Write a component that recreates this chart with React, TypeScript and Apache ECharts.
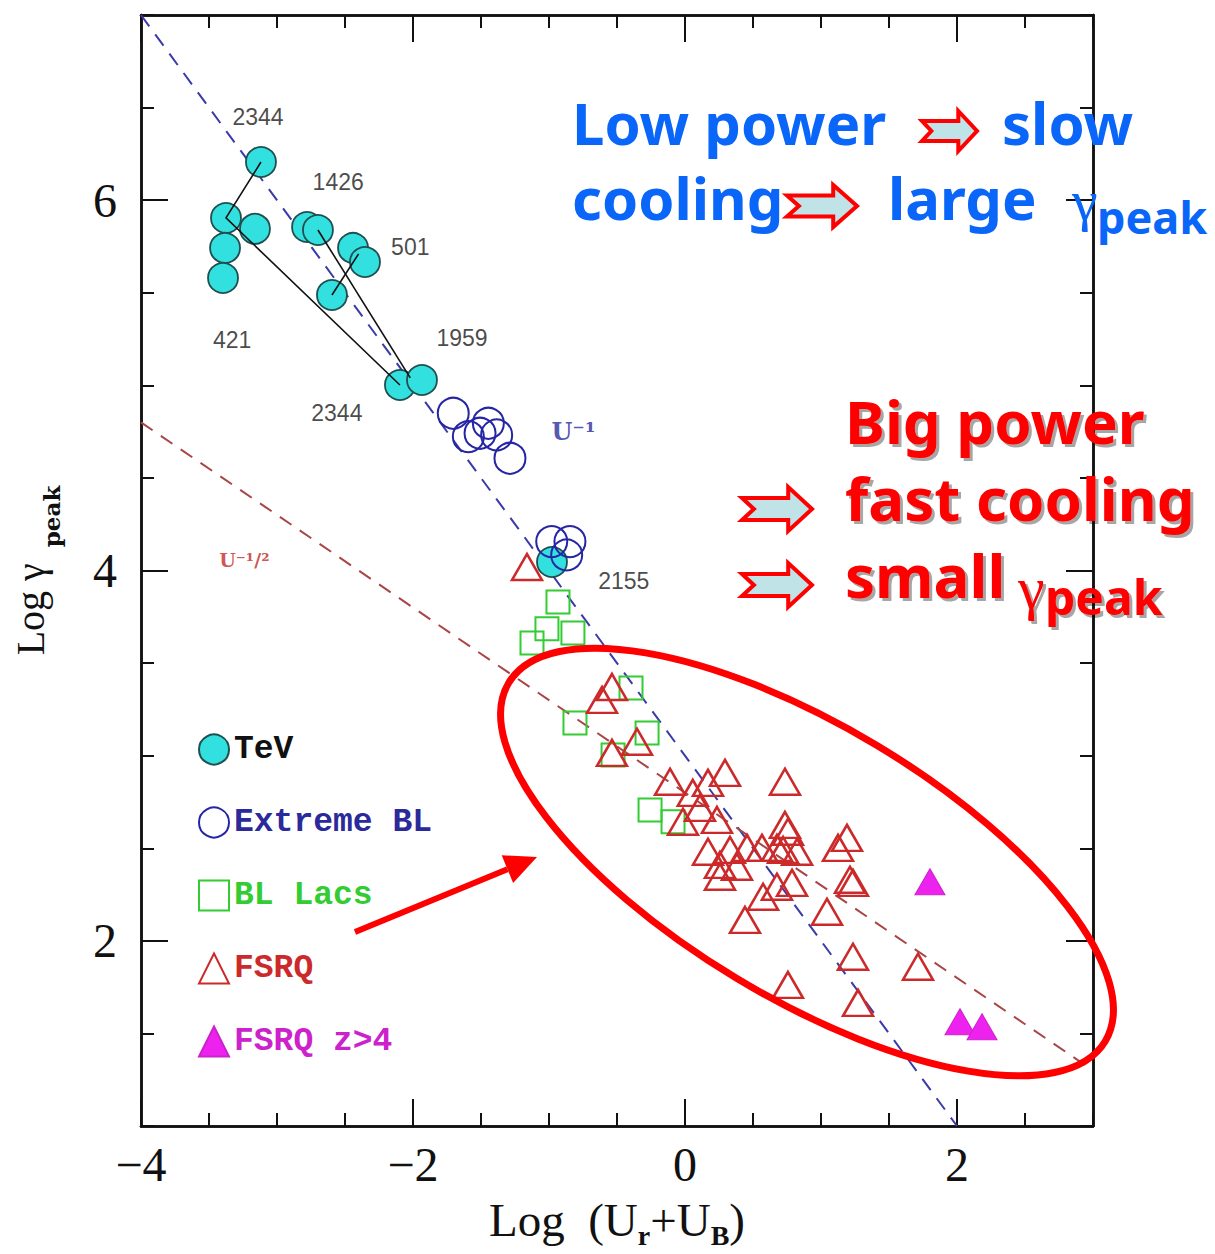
import React, { useEffect, useRef } from "react";
import * as echarts from "echarts";

// ---------- data ----------
const xRange = [-4, 3];
const yRange = [1, 7];
const xMajorTicks = [-4, -2, 0, 2];
const yMajorTicks = [2, 4, 6];

const tevPoints = [
  [-3.118, 6.206], [-3.375, 5.904], [-3.162, 5.845], [-3.382, 5.742], [-3.397, 5.58],
  [-2.779, 5.855], [-2.699, 5.839], [-2.441, 5.742], [-2.353, 5.666], [-2.596, 5.488],
  [-2.096, 5.002], [-1.934, 5.029], [-0.978, 4.046],
];
const extremeBLPoints = [
  [-1.704, 4.849], [-1.593, 4.723], [-1.446, 4.795], [-1.507, 4.741], [-1.385, 4.732],
  [-1.287, 4.606], [-0.98, 4.156], [-0.846, 4.156], [-0.87, 4.084],
];
const blLacPoints = [
  [-0.934, 3.83], [-1.015, 3.685], [-0.824, 3.663], [-1.125, 3.609], [-0.397, 3.366],
  [-0.809, 3.177], [-0.279, 3.123], [-0.529, 3.004], [-0.257, 2.707], [-0.088, 2.643],
];
const fsrqPoints = [
  [-1.162, 4.019], [-0.537, 3.371], [-0.61, 3.301], [-0.537, 3.015], [-0.353, 3.075],
  [-0.11, 2.859], [0.057, 2.799], [0.169, 2.853], [0.294, 2.907], [0.735, 2.859],
  [0.11, 2.718], [0.235, 2.653], [-0.015, 2.643], [0.735, 2.626], [0.757, 2.589],
  [1.191, 2.556], [1.125, 2.502], [0.169, 2.481], [0.331, 2.491], [0.456, 2.502],
  [0.566, 2.502], [0.676, 2.502], [0.721, 2.491], [0.824, 2.481], [0.257, 2.41],
  [0.382, 2.4], [0.257, 2.346], [1.213, 2.33], [1.235, 2.313], [0.787, 2.313],
  [0.676, 2.292], [0.574, 2.238], [1.044, 2.157], [0.441, 2.113], [1.235, 1.914],
  [1.713, 1.86], [0.757, 1.762], [1.272, 1.665],
];
const fsrqHighZPoints = [[1.801, 2.319], [2.022, 1.563], [2.184, 1.536]];

const tevTracks = [
  [[-3.118, 6.206], [-3.375, 5.904], [-2.096, 5.002]],
  [[-2.699, 5.839], [-2.02, 5.04]],
  [[-2.4, 5.71], [-2.596, 5.488]],
];

const uInverseLine = [[-4, 7], [2, 1]];
const uInverseHalfLine = [[-4, 4.8], [3, 1.3]];

const sourceLabels = [
  { name: "2344", value: [-3.14, 6.449] },
  { name: "1426", value: [-2.55, 6.098] },
  { name: "501", value: [-2.02, 5.747] },
  { name: "421", value: [-3.33, 5.245] },
  { name: "1959", value: [-1.64, 5.256] },
  { name: "2344", value: [-2.56, 4.851] },
  { name: "2155", value: [-0.45, 3.944] },
];
const lineLabels = [
  { name: "U⁻¹", value: [-0.82, 4.748], color: "#2a2a9a", size: 24 },
  { name: "U⁻¹/²", value: [-3.24, 4.057], color: "#c02a2a", size: 19 },
];

const seriesNames = ["TeV", "Extreme BL", "BL Lacs", "FSRQ", "FSRQ z>4"];
const legendColors = ["#111111", "#2a2a9a", "#33cc33", "#cc2a2a", "#cc22cc"];

// ---------- helpers ----------
const frameLine = { show: true, onZero: false, lineStyle: { color: "#111", width: 2.5 } };
const tickStyle = { color: "#111", width: 2 };

function minorAxis(position: string) {
  const isX = position === "bottom" || position === "top";
  return {
    type: "value",
    position,
    min: isX ? xRange[0] : yRange[0],
    max: isX ? xRange[1] : yRange[1],
    interval: 0.5,
    axisLine: frameLine,
    axisTick: { show: true, inside: true, length: 13, lineStyle: tickStyle },
    axisLabel: { show: false },
    splitLine: { show: false },
  };
}

const fmtTick = (v: number) => (v < 0 ? "−" + Math.abs(v) : String(v));

function majorAxis(position: string, ticks: number[], labels: boolean, extra: any = {}) {
  const isX = position === "bottom" || position === "top";
  return {
    type: "value",
    position,
    min: isX ? xRange[0] : yRange[0],
    max: isX ? xRange[1] : yRange[1],
    axisLine: frameLine,
    axisTick: { show: true, inside: true, length: 27, customValues: ticks, lineStyle: tickStyle },
    axisLabel: labels
      ? {
          show: true,
          customValues: ticks,
          formatter: fmtTick,
          fontFamily: "Liberation Serif",
          fontSize: 48,
          color: "#111",
          margin: isX ? 14 : 24,
        }
      : { show: false },
    splitLine: { show: false },
    ...extra,
  };
}

function blockArrow(x0: number, yc: number, w: number, h: number) {
  const head = w * 0.34;
  const sh = h * 0.5;
  const notch = w * 0.17;
  return [
    [x0, yc - sh / 2], [x0 + w - head, yc - sh / 2], [x0 + w - head, yc - h / 2],
    [x0 + w, yc], [x0 + w - head, yc + h / 2], [x0 + w - head, yc + sh / 2],
    [x0, yc + sh / 2], [x0 + notch, yc],
  ];
}
const arrowStyle = { fill: "#bfe3e6", stroke: "#ff0000", lineWidth: 4, lineJoin: "miter" };

const blue = "#0a66f8";
const red = "#ff0000";
const annFont = "Noto Sans";
const redShadow = { textShadowColor: "rgba(0,0,0,0.35)", textShadowOffsetX: 3, textShadowOffsetY: 3, textShadowBlur: 1 };

function txt(text: string, x: number, y: number, fontSize: number, fill: string, extra: any = {}) {
  return {
    type: "text",
    x,
    y,
    z: 100,
    style: { text, fontSize, fontFamily: annFont, fontWeight: "bold", fill, verticalAlign: "middle", align: "left", ...extra },
  };
}

// red pointer arrow
const arrowTail = [355, 932];
const arrowTip = [537, 857];
const dx = arrowTip[0] - arrowTail[0];
const dy = arrowTip[1] - arrowTail[1];
const len = Math.sqrt(dx * dx + dy * dy);
const ux = dx / len, uy = dy / len;
const baseX = arrowTip[0] - 32 * ux, baseY = arrowTip[1] - 32 * uy;
const nx = -uy, ny = ux;

const option: any = {
  animation: false,
  backgroundColor: "#ffffff",
  grid: { left: 141, top: 15, width: 952, height: 1111, containLabel: false, outerBoundsMode: "none" },
  xAxis: [
    minorAxis("bottom"),
    majorAxis("bottom", xMajorTicks, true, {
      name: "{m|Log  (U}{s|r}{m|+U}{s|B}{m|)}",
      nameLocation: "middle",
      nameGap: 70,
      nameTextStyle: {
        rich: {
          m: { fontFamily: "Liberation Serif", fontSize: 47, color: "#111", lineHeight: 48, verticalAlign: "top" },
          s: { fontFamily: "Liberation Serif", fontSize: 28, fontWeight: "bold", color: "#111", lineHeight: 28, padding: [25, 0, 0, 0], verticalAlign: "top" },
        },
      },
    }),
    minorAxis("top"),
    majorAxis("top", xMajorTicks, false),
  ],
  yAxis: [
    minorAxis("left"),
    majorAxis("left", yMajorTicks, true, {
      name: "{m|Log γ}{s|peak}",
      nameLocation: "middle",
      nameRotate: 90,
      nameGap: 89,
      nameTextStyle: {
        rich: {
          m: { fontFamily: "Liberation Serif", fontSize: 40, color: "#111", lineHeight: 42, verticalAlign: "top" },
          s: { fontFamily: "DejaVu Serif", fontSize: 23, fontWeight: "bold", color: "#111", lineHeight: 23, padding: [30, 0, 0, 16], verticalAlign: "top" },
        },
      },
    }),
    minorAxis("right"),
    majorAxis("right", yMajorTicks, false),
  ],
  legend: {
    orient: "vertical",
    left: 193,
    top: 728,
    itemWidth: 30,
    itemHeight: 30,
    itemGap: 40,
    selectedMode: false,
    textStyle: { fontFamily: "Liberation Mono", fontWeight: "bold", fontSize: 33 },
    data: seriesNames.map((n, i) => ({ name: n, textStyle: { color: legendColors[i] } })),
  },
  series: [
    {
      type: "line",
      data: uInverseLine,
      showSymbol: false,
      silent: true,
      lineStyle: { color: "#3a3aa8", width: 2, type: [14, 10] },
      z: 1,
    },
    {
      type: "line",
      data: uInverseHalfLine,
      showSymbol: false,
      silent: true,
      lineStyle: { color: "#a84545", width: 2, type: [14, 10] },
      z: 1,
    },
    {
      name: "TeV",
      type: "scatter",
      data: tevPoints,
      symbol: "circle",
      symbolSize: 30,
      itemStyle: { color: "#33e0e0", borderColor: "#1f4f4f", borderWidth: 1.8, opacity: 1 },
      z: 3,
    },
    {
      type: "lines",
      coordinateSystem: "cartesian2d",
      polyline: true,
      silent: true,
      data: tevTracks.map((c) => ({ coords: c })),
      lineStyle: { color: "#111", width: 1.6, opacity: 1 },
      z: 4,
    },
    {
      name: "Extreme BL",
      type: "scatter",
      data: extremeBLPoints,
      symbol: "circle",
      symbolSize: 31,
      itemStyle: { color: "rgba(255,255,255,0)", borderColor: "#2525a5", borderWidth: 2, opacity: 1 },
      z: 3,
    },
    {
      name: "BL Lacs",
      type: "scatter",
      data: blLacPoints,
      symbol: "rect",
      symbolSize: 23,
      itemStyle: { color: "rgba(255,255,255,0)", borderColor: "#33cc33", borderWidth: 2, opacity: 1 },
      z: 3,
    },
    {
      name: "FSRQ",
      type: "scatter",
      data: fsrqPoints,
      symbol: "triangle",
      symbolSize: [30, 26],
      itemStyle: { color: "rgba(255,255,255,0)", borderColor: "#cc2a2a", borderWidth: 2.5, opacity: 1 },
      z: 3,
    },
    {
      name: "FSRQ z>4",
      type: "scatter",
      data: fsrqHighZPoints,
      symbol: "triangle",
      symbolSize: [30, 26],
      itemStyle: { color: "#ee22ee", borderColor: "#cc22cc", borderWidth: 1, opacity: 1 },
      z: 3,
    },
    {
      type: "scatter",
      data: sourceLabels,
      symbolSize: 1,
      silent: true,
      itemStyle: { color: "rgba(0,0,0,0)" },
      label: {
        show: true,
        position: "inside",
        formatter: "{b}",
        fontFamily: "Liberation Sans",
        fontSize: 23,
        color: "#1a1a1a",
      },
      z: 5,
    },
    {
      type: "scatter",
      data: lineLabels.map((l) => ({
        name: l.name,
        value: l.value,
        label: { color: l.color, fontSize: l.size },
      })),
      symbolSize: 1,
      silent: true,
      itemStyle: { color: "rgba(0,0,0,0)" },
      label: {
        show: true,
        position: "inside",
        formatter: "{b}",
        fontFamily: "DejaVu Serif",
        fontWeight: "bold",
      },
      z: 5,
    },
  ],
  graphic: [
    // blue annotation
    txt("Low power", 572, 122, 58, blue),
    { type: "polygon", z: 100, shape: { points: blockArrow(922, 131, 55, 40) }, style: arrowStyle },
    txt("slow", 1002, 122, 58, blue),
    txt("cooling", 572, 197, 58, blue),
    { type: "polygon", z: 100, shape: { points: blockArrow(787, 206, 70, 42) }, style: arrowStyle },
    txt("large", 888, 197, 58, blue),
    txt("γ", 1072, 200, 58, blue, { fontWeight: "normal", fontFamily: "Liberation Serif" }),
    txt("peak", 1097, 216, 45, blue),
    // red annotation
    txt("Big power", 845, 421, 60, red, redShadow),
    { type: "polygon", z: 100, shape: { points: blockArrow(742, 509, 70, 44) }, style: arrowStyle },
    txt("fast cooling", 845, 498, 60, red, redShadow),
    { type: "polygon", z: 100, shape: { points: blockArrow(742, 585, 70, 44) }, style: arrowStyle },
    txt("small", 845, 575, 60, red, redShadow),
    txt("γ", 1018, 588, 60, red, { fontWeight: "normal", fontFamily: "Liberation Serif", ...redShadow }),
    txt("peak", 1045, 596, 48, red, redShadow),
    // ellipse
    {
      type: "ellipse",
      x: 807,
      y: 862,
      rotation: (-31 * Math.PI) / 180,
      z: 90,
      shape: { cx: 0, cy: 0, rx: 348, ry: 136 },
      style: { fill: "none", stroke: "#ff0000", lineWidth: 7 },
    },
    // pointer arrow
    {
      type: "line",
      z: 90,
      shape: { x1: arrowTail[0], y1: arrowTail[1], x2: baseX, y2: baseY },
      style: { stroke: "#ff0000", lineWidth: 6 },
    },
    {
      type: "polygon",
      z: 90,
      shape: {
        points: [
          [arrowTip[0], arrowTip[1]],
          [baseX + 15 * nx, baseY + 15 * ny],
          [baseX - 15 * nx, baseY - 15 * ny],
        ],
      },
      style: { fill: "#ff0000" },
    },
  ],
};

export default function App() {
  const ref = useRef<HTMLDivElement>(null);
  useEffect(() => {
    const chart = echarts.init(ref.current!, null, { renderer: "svg" });
    chart.setOption(option);
    return () => chart.dispose();
  }, []);
  return (
    <div
      ref={ref}
      style={{ position: "fixed", left: 0, top: 0, width: 1215, height: 1254, background: "#fff" }}
    />
  );
}
